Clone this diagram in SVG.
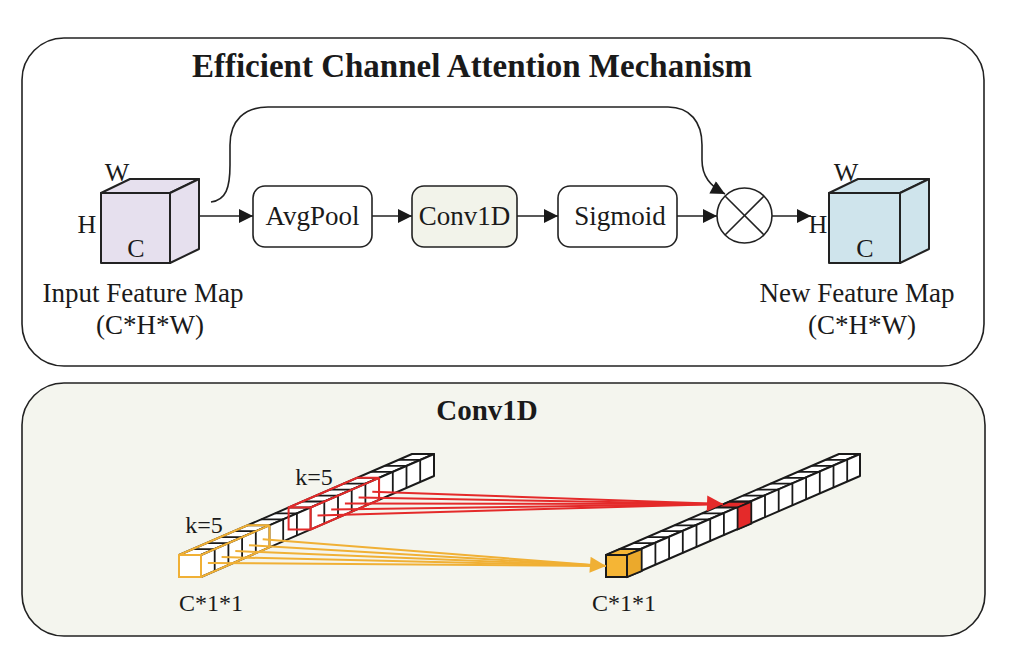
<svg xmlns="http://www.w3.org/2000/svg" width="1025" height="659" viewBox="0 0 1025 659">
<style>
.panel{stroke:#222;stroke-width:1.6}
.t{font-family:"Liberation Serif","Times New Roman",serif;fill:#1a1a1a}
.title{font-weight:bold;font-size:33px}
.title2{font-weight:bold;font-size:29px}
.lbl{font-size:27px}
.dim{font-size:26px}
.sm{font-size:24px}
.box{stroke:#222;stroke-width:1.6}
.ln{stroke:#222;stroke-width:1.6;fill:none}
.cube{stroke:#222;stroke-width:2;stroke-linejoin:round}
.bar{stroke:#1a1a1a;stroke-width:2;fill:#fff;stroke-linejoin:round}
.cell{stroke:#1a1a1a;stroke-width:1.8}
.or{stroke:#f0b035;stroke-width:2;fill:none}
.rd{stroke:#e42a2a;stroke-width:2;fill:none}
</style>
<defs>
<marker id="ahb" viewBox="0 0 10 10" refX="10" refY="5" markerWidth="16" markerHeight="14" markerUnits="userSpaceOnUse" orient="auto"><path d="M0,0 L10,5 L0,10 z" fill="#1a1a1a"/></marker>
<marker id="aho" viewBox="0 0 10 10" refX="10" refY="5" markerWidth="18" markerHeight="16" markerUnits="userSpaceOnUse" orient="auto"><path d="M0,0 L10,5 L0,10 z" fill="#f0b035"/></marker>
<marker id="ahr" viewBox="0 0 10 10" refX="10" refY="5" markerWidth="18" markerHeight="16" markerUnits="userSpaceOnUse" orient="auto"><path d="M0,0 L10,5 L0,10 z" fill="#e42a2a"/></marker>
</defs>

<g id="panel-eca">
<rect class="panel" x="22" y="38" width="962" height="328" rx="42" fill="#fff"/>
<text class="t title" x="472" y="77" text-anchor="middle">Efficient Channel Attention Mechanism</text>
</g>

<g id="input-cube">
<polygon class="cube" points="101,193 130,179 199,179 170,193" fill="#e6e0ee"/>
<polygon class="cube" points="170,193 199,179 199,249 170,263" fill="#e6e0ee"/>
<rect class="cube" x="101" y="193" width="69" height="70" fill="#e6e0ee"/>
<text class="t dim" x="117" y="181" text-anchor="middle">W</text>
<text class="t dim" x="87" y="233" text-anchor="middle">H</text>
<text class="t dim" x="136" y="257" text-anchor="middle">C</text>
<text class="t lbl" x="143" y="302" text-anchor="middle">Input Feature Map</text>
<text class="t lbl" x="150" y="334" text-anchor="middle">(C*H*W)</text>
</g>

<g id="avgpool">
<rect class="box" x="253" y="186" width="119" height="61" rx="12" fill="#fff"/>
<text class="t lbl" x="312.5" y="225" text-anchor="middle">AvgPool</text>
</g>
<g id="conv1d">
<rect class="box" x="412" y="186" width="105" height="61" rx="12" fill="#f2f3ea"/>
<text class="t lbl" x="464.5" y="225" text-anchor="middle">Conv1D</text>
</g>
<g id="sigmoid">
<rect class="box" x="558" y="186" width="119" height="61" rx="12" fill="#fff"/>
<text class="t lbl" x="620" y="225" text-anchor="middle">Sigmoid</text>
</g>
<g id="multiply">
<circle class="ln" cx="744.5" cy="215.5" r="27.5" fill="#fff"/>
<line class="ln" x1="725" y1="196" x2="764" y2="235"/>
<line class="ln" x1="764" y1="196" x2="725" y2="235"/>
</g>

<g id="output-cube">
<polygon class="cube" points="829,193 858,179 929,179 900,193" fill="#cfe4ec"/>
<polygon class="cube" points="900,193 929,179 929,249 900,263" fill="#cfe4ec"/>
<rect class="cube" x="829" y="193" width="71" height="70" fill="#cfe4ec"/>
<text class="t dim" x="846" y="181" text-anchor="middle">W</text>
<text class="t dim" x="818" y="233" text-anchor="middle">H</text>
<text class="t dim" x="865" y="257" text-anchor="middle">C</text>
<text class="t lbl" x="857" y="302" text-anchor="middle">New Feature Map</text>
<text class="t lbl" x="862" y="334" text-anchor="middle">(C*H*W)</text>
</g>

<g id="connectors-top">
<line class="ln" x1="200" y1="216" x2="253" y2="216" marker-end="url(#ahb)"/>
<line class="ln" x1="372" y1="216" x2="412" y2="216" marker-end="url(#ahb)"/>
<line class="ln" x1="517" y1="216" x2="558" y2="216" marker-end="url(#ahb)"/>
<line class="ln" x1="677" y1="216" x2="717" y2="216" marker-end="url(#ahb)"/>
<line class="ln" x1="772" y1="216" x2="811" y2="216" marker-end="url(#ahb)"/>
<path class="ln" d="M211,202 C226,200 230,188 230,165 L230,145 C230,120 245,107 268,107 L668,107 C690,107 702,122 702,145 L702,160 C702,176 710,186 725,194" marker-end="url(#ahb)"/>
</g>

<g id="panel-conv1d">
<rect class="panel" x="22" y="383" width="963" height="253" rx="42" fill="#f4f5ee"/>
<text class="t title2" x="487" y="420" text-anchor="middle">Conv1D</text>
</g>

<g id="input-bar">
<polygon class="bar" points="179,555 412,454 434,454 201,555"/>
<polygon class="bar" points="201,555 434,454 434,476 201,577"/>
<rect class="bar" x="179" y="555" width="22" height="22"/>
<g class="cell">
<path d="M192.7,549.1h22M206.4,543.1h22M220.1,537.2h22M233.8,531.2h22M247.5,525.3h22M261.2,519.4h22M274.9,513.4h22M288.6,507.5h22M302.3,501.5h22M316,495.6h22M329.7,489.7h22M343.4,483.7h22M357.1,477.8h22M370.8,471.8h22M384.5,465.9h22M398.2,459.9h22"/>
<path d="M214.7,549.1v22M228.4,543.1v22M242.1,537.2v22M255.8,531.2v22M269.5,525.3v22M283.2,519.4v22M296.9,513.4v22M310.6,507.5v22M324.3,501.5v22M338,495.6v22M351.7,489.7v22M365.4,483.7v22M379.1,477.8v22M392.8,471.8v22M406.5,465.9v22M420.2,459.9v22"/>
</g>
<path class="or" d="M179,555 h22 v22 h-22 z M179,555 L247.5,525.3 h22 L201,555 M269.5,525.3 v22 L201,577"/>
<path class="rd" d="M288.6,507.5 h22 v22 h-22 z M288.6,507.5 L357.1,477.8 h22 L310.6,507.5 M379.1,477.8 v22 L310.6,529.5"/>
<text class="t sm" x="204" y="533" text-anchor="middle">k=5</text>
<text class="t sm" x="314" y="485" text-anchor="middle">k=5</text>
<text class="t sm" x="211" y="611" text-anchor="middle">C*1*1</text>
</g>

<g id="output-bar">
<polygon class="bar" points="606,555 839,454 860,454 627,555"/>
<polygon class="bar" points="627,555 860,454 860,476 627,577"/>
<polygon points="715.6,507.5 737.6,507.5 751.3,501.6 729.3,501.6" fill="#e42a2a" stroke="#1a1a1a" stroke-width="1.8"/>
<polygon points="737.6,507.5 751.3,501.6 751.3,523.6 737.6,529.5" fill="#e42a2a" stroke="#1a1a1a" stroke-width="1.8"/>
<polygon points="606,555 619.7,549.1 641.7,549.1 627,555" fill="#f5b535" stroke="#1a1a1a" stroke-width="1.8"/>
<polygon points="627,555 641.7,549.1 641.7,571.1 627,577" fill="#eba92c" stroke="#1a1a1a" stroke-width="1.8"/>
<rect x="606" y="555" width="21" height="22" fill="#f5b535" stroke="#1a1a1a" stroke-width="2"/>
<g class="cell">
<path d="M619.7,549.1h22M633.4,543.1h22M647.1,537.2h22M660.8,531.2h22M674.5,525.3h22M688.2,519.4h22M701.9,513.4h22M729.3,501.5h22M743,495.6h22M756.7,489.7h22M770.4,483.7h22M784.1,477.8h22M797.8,471.8h22M811.5,465.9h22M825.2,459.9h22"/>
<path d="M655.4,543.1v22M669.1,537.2v22M682.8,531.2v22M696.5,525.3v22M710.2,519.4v22M723.9,513.4v22M765,495.6v22M778.7,489.7v22M792.4,483.7v22M806.1,477.8v22M819.8,471.8v22M833.5,465.9v22M847.2,459.9v22"/>
</g>
<text class="t sm" x="624" y="611" text-anchor="middle">C*1*1</text>
</g>

<g id="connectors-conv">
<g class="or">
<line x1="207.9" y1="563" x2="606" y2="566"/>
<line x1="221.6" y1="557.1" x2="606" y2="566"/>
<line x1="235.3" y1="551.1" x2="606" y2="566"/>
<line x1="249" y1="545.2" x2="606" y2="566"/>
<line x1="262.7" y1="539.3" x2="606" y2="566" marker-end="url(#aho)"/>
</g>
<g class="rd">
<line x1="317.5" y1="515.5" x2="723" y2="504"/>
<line x1="331.2" y1="509.5" x2="723" y2="504"/>
<line x1="344.9" y1="503.6" x2="723" y2="504"/>
<line x1="358.6" y1="497.6" x2="723" y2="504"/>
<line x1="372.3" y1="491.7" x2="723" y2="504" marker-end="url(#ahr)"/>
</g>
</g>
</svg>
